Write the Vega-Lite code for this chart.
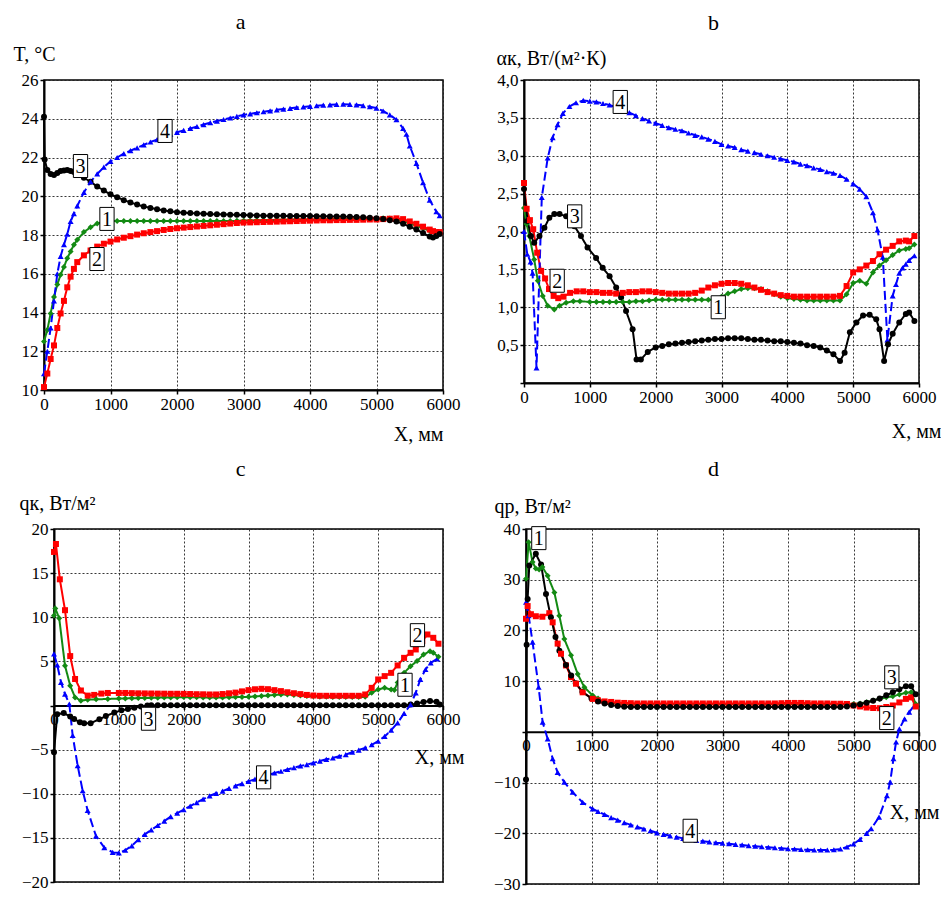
{
"$schema":"https://vega.github.io/schema/vega-lite/v6.json",
"padding":{"left":12,"top":10,"right":5,"bottom":5},
"background":"white",
"config":{
 "font":"Liberation Serif",
 "view":{"stroke":"#000","strokeWidth":1.5},
 "title":{"font":"Liberation Serif","fontSize":22,"fontWeight":"normal","color":"#000","baseline":"alphabetic","offset":10,"frame":"group"},
 "axis":{"labelFont":"Liberation Serif","labelFontSize":17,"labelColor":"#000","titleFont":"Liberation Serif","titleFontSize":20,"titleFontWeight":"normal","titleColor":"#000","domainColor":"#000","domainWidth":2,"tickColor":"#000","tickSize":4,"tickWidth":1.5,"gridColor":"#222","gridDash":[2,2],"gridWidth":1,"gridOpacity":0.9,"labelPadding":2,"labelFlush":false,"labelOverlap":false,"labelBound":false,"titleAngle":0,"titleBaseline":"alphabetic"}
},
"datasets":{
"a":[
{"x":0,"s1":12.5,"s2":10.15,"s3":24.1,"s4":10.85},
{"x":10,"s3":21.9},
{"x":50,"s1":13.1,"s2":10.85,"s3":21.35,"s4":12.0},
{"x":100,"s1":13.95,"s2":11.6,"s3":21.15,"s4":13.2},
{"x":150,"s1":14.8,"s2":12.3,"s3":21.1,"s4":14.6},
{"x":200,"s1":15.45,"s2":13.2,"s3":21.2,"s4":16.0},
{"x":250,"s1":15.95,"s2":13.95,"s3":21.3,"s4":16.9},
{"x":300,"s1":16.35,"s2":14.6,"s3":21.33,"s4":17.5},
{"x":350,"s1":16.8,"s2":15.3,"s3":21.35,"s4":18.05},
{"x":400,"s1":17.15,"s2":15.85,"s3":21.3,"s4":18.7},
{"x":450,"s1":17.5,"s2":16.25,"s3":21.25,"s4":19.1},
{"x":500,"s1":17.75,"s2":16.6,"s3":21.2,"s4":19.5},
{"x":600,"s1":18.15,"s2":16.95,"s3":20.95,"s4":20.2},
{"x":700,"s1":18.4,"s2":17.2,"s3":20.75,"s4":20.75},
{"x":800,"s1":18.6,"s2":17.4,"s3":20.5,"s4":21.15},
{"x":900,"s1":18.68,"s2":17.55,"s3":20.3,"s4":21.5},
{"x":1000,"s1":18.72,"s2":17.66,"s3":20.1,"s4":21.8},
{"x":1100,"s1":18.72,"s2":17.77,"s3":19.95,"s4":22.0},
{"x":1200,"s1":18.72,"s2":17.86,"s3":19.8,"s4":22.2},
{"x":1300,"s1":18.72,"s2":17.94,"s3":19.68,"s4":22.35},
{"x":1400,"s1":18.72,"s2":18.02,"s3":19.57,"s4":22.5},
{"x":1500,"s1":18.72,"s2":18.09,"s3":19.47,"s4":22.65},
{"x":1600,"s1":18.72,"s2":18.15,"s3":19.4,"s4":22.8},
{"x":1700,"s1":18.72,"s2":18.2,"s3":19.33,"s4":22.92},
{"x":1800,"s1":18.72,"s2":18.26,"s3":19.27,"s4":23.05},
{"x":1900,"s1":18.72,"s2":18.31,"s3":19.22,"s4":23.2},
{"x":2000,"s1":18.72,"s2":18.35,"s3":19.18,"s4":23.3},
{"x":2100,"s1":18.72,"s2":18.38,"s3":19.15,"s4":23.4},
{"x":2200,"s1":18.72,"s2":18.41,"s3":19.13,"s4":23.5},
{"x":2300,"s1":18.72,"s2":18.44,"s3":19.11,"s4":23.6},
{"x":2400,"s1":18.72,"s2":18.47,"s3":19.1,"s4":23.7},
{"x":2500,"s1":18.72,"s2":18.5,"s3":19.08,"s4":23.8},
{"x":2600,"s1":18.72,"s2":18.53,"s3":19.07,"s4":23.88},
{"x":2700,"s1":18.72,"s2":18.56,"s3":19.06,"s4":23.96},
{"x":2800,"s1":18.72,"s2":18.59,"s3":19.05,"s4":24.04},
{"x":2900,"s1":18.73,"s2":18.62,"s3":19.04,"s4":24.12},
{"x":3000,"s1":18.74,"s2":18.64,"s3":19.03,"s4":24.2},
{"x":3100,"s1":18.75,"s2":18.65,"s3":19.02,"s4":24.25},
{"x":3200,"s1":18.76,"s2":18.66,"s3":19.01,"s4":24.31},
{"x":3300,"s1":18.77,"s2":18.67,"s3":19.0,"s4":24.36},
{"x":3400,"s1":18.78,"s2":18.68,"s3":19.0,"s4":24.41},
{"x":3500,"s1":18.78,"s2":18.69,"s3":18.99,"s4":24.46},
{"x":3600,"s1":18.79,"s2":18.7,"s3":18.99,"s4":24.5},
{"x":3700,"s1":18.79,"s2":18.71,"s3":18.98,"s4":24.54},
{"x":3800,"s1":18.8,"s2":18.72,"s3":18.98,"s4":24.58},
{"x":3900,"s1":18.8,"s2":18.73,"s3":18.98,"s4":24.61},
{"x":4000,"s1":18.8,"s2":18.74,"s3":18.98,"s4":24.64},
{"x":4100,"s1":18.81,"s2":18.75,"s3":18.97,"s4":24.67},
{"x":4200,"s1":18.81,"s2":18.76,"s3":18.97,"s4":24.7},
{"x":4300,"s1":18.82,"s2":18.76,"s3":18.96,"s4":24.72},
{"x":4400,"s1":18.82,"s2":18.77,"s3":18.96,"s4":24.74},
{"x":4500,"s1":18.83,"s2":18.77,"s3":18.95,"s4":24.75},
{"x":4600,"s1":18.83,"s2":18.78,"s3":18.94,"s4":24.74},
{"x":4700,"s1":18.84,"s2":18.78,"s3":18.93,"s4":24.72},
{"x":4800,"s1":18.84,"s2":18.79,"s3":18.91,"s4":24.68},
{"x":4900,"s1":18.85,"s2":18.8,"s3":18.89,"s4":24.62},
{"x":5000,"s1":18.85,"s2":18.8,"s3":18.86,"s4":24.55},
{"x":5100,"s1":18.86,"s2":18.82,"s3":18.82,"s4":24.4},
{"x":5200,"s1":18.85,"s2":18.84,"s3":18.76,"s4":24.2},
{"x":5300,"s1":18.8,"s2":18.86,"s3":18.7,"s4":23.95},
{"x":5400,"s1":18.72,"s2":18.82,"s3":18.58,"s4":23.5},
{"x":5450,"s4":23.2},
{"x":5500,"s1":18.6,"s2":18.7,"s3":18.43,"s4":22.6},
{"x":5600,"s1":18.48,"s2":18.58,"s3":18.28,"s4":21.7},
{"x":5700,"s1":18.35,"s2":18.43,"s3":18.1,"s4":20.7},
{"x":5800,"s1":18.22,"s2":18.28,"s3":17.92,"s4":19.8},
{"x":5850,"s2":18.2,"s3":17.87},
{"x":5900,"s1":18.12,"s2":18.15,"s3":17.95,"s4":19.2},
{"x":5950,"s1":18.1,"s2":18.15,"s3":18.05,"s4":19.0}
],
"b":[
{"x":0,"s1":2.31,"s2":2.64,"s3":2.56,"s4":2.0},
{"x":40,"s1":2.1,"s2":2.3},
{"x":50,"s4":1.7},
{"x":55,"s3":2.14},
{"x":80,"s1":1.94},
{"x":90,"s2":2.15},
{"x":100,"s4":1.6},
{"x":105,"s3":1.94},
{"x":130,"s4":1.45},
{"x":140,"s2":2.03},
{"x":155,"s1":1.63,"s3":1.85},
{"x":190,"s4":0.2},
{"x":200,"s2":1.72},
{"x":210,"s1":1.35},
{"x":235,"s3":1.94},
{"x":260,"s2":1.48},
{"x":270,"s4":2.45},
{"x":285,"s1":1.15},
{"x":310,"s3":2.05},
{"x":320,"s2":1.38},
{"x":360,"s1":1.02,"s4":2.97},
{"x":380,"s2":1.24},
{"x":385,"s3":2.18},
{"x":435,"s4":3.24},
{"x":450,"s2":1.15},
{"x":460,"s1":0.97,"s3":2.23},
{"x":510,"s4":3.41},
{"x":520,"s2":1.12},
{"x":540,"s1":1.02,"s3":2.23},
{"x":590,"s4":3.56},
{"x":600,"s2":1.14},
{"x":640,"s1":1.06,"s3":2.2},
{"x":690,"s4":3.65},
{"x":700,"s2":1.19},
{"x":750,"s1":1.08},
{"x":765,"s3":2.07},
{"x":790,"s4":3.7},
{"x":800,"s2":1.21},
{"x":850,"s1":1.08},
{"x":865,"s3":1.94},
{"x":900,"s2":1.21,"s4":3.73},
{"x":965,"s3":1.79},
{"x":1000,"s1":1.07,"s2":1.2,"s4":3.72},
{"x":1095,"s3":1.65},
{"x":1100,"s1":1.07,"s2":1.2,"s4":3.71},
{"x":1195,"s3":1.52},
{"x":1200,"s1":1.07,"s2":1.19,"s4":3.69},
{"x":1300,"s1":1.07,"s2":1.19,"s3":1.41,"s4":3.67},
{"x":1400,"s1":1.07,"s2":1.18,"s3":1.26,"s4":3.64},
{"x":1475,"s3":1.13},
{"x":1500,"s1":1.07,"s2":1.19,"s4":3.61},
{"x":1550,"s3":0.95},
{"x":1600,"s1":1.07,"s2":1.2,"s4":3.57},
{"x":1650,"s3":0.71},
{"x":1700,"s1":1.08,"s2":1.2,"s4":3.53},
{"x":1710,"s3":0.31},
{"x":1775,"s3":0.31},
{"x":1800,"s1":1.08,"s2":1.21,"s4":3.49},
{"x":1880,"s3":0.41},
{"x":1900,"s1":1.09,"s2":1.21,"s4":3.46},
{"x":2000,"s1":1.1,"s2":1.2,"s3":0.47,"s4":3.43},
{"x":2100,"s1":1.1,"s2":1.19,"s3":0.49,"s4":3.4},
{"x":2200,"s1":1.1,"s2":1.18,"s3":0.51,"s4":3.37},
{"x":2300,"s1":1.1,"s2":1.18,"s3":0.52,"s4":3.35},
{"x":2400,"s1":1.1,"s2":1.18,"s3":0.53,"s4":3.33},
{"x":2500,"s1":1.1,"s2":1.18,"s3":0.54,"s4":3.3},
{"x":2600,"s1":1.1,"s2":1.19,"s3":0.55,"s4":3.27},
{"x":2700,"s1":1.1,"s2":1.22,"s3":0.56,"s4":3.25},
{"x":2800,"s1":1.1,"s2":1.26,"s3":0.57,"s4":3.22},
{"x":2900,"s1":1.1,"s2":1.29,"s3":0.58,"s4":3.19},
{"x":3000,"s1":1.14,"s2":1.31,"s3":0.58,"s4":3.15},
{"x":3100,"s1":1.18,"s2":1.32,"s3":0.59,"s4":3.13},
{"x":3200,"s1":1.21,"s2":1.32,"s3":0.59,"s4":3.11},
{"x":3300,"s1":1.24,"s2":1.31,"s3":0.59,"s4":3.08},
{"x":3400,"s1":1.25,"s2":1.29,"s3":0.58,"s4":3.06},
{"x":3500,"s1":1.25,"s2":1.26,"s3":0.57,"s4":3.04},
{"x":3600,"s1":1.24,"s2":1.23,"s3":0.57,"s4":3.02},
{"x":3700,"s1":1.21,"s2":1.2,"s3":0.56,"s4":3.0},
{"x":3800,"s1":1.17,"s2":1.18,"s3":0.55,"s4":2.98},
{"x":3900,"s1":1.14,"s2":1.16,"s3":0.55,"s4":2.96},
{"x":4000,"s1":1.12,"s2":1.15,"s3":0.54,"s4":2.94},
{"x":4100,"s1":1.11,"s2":1.14,"s3":0.53,"s4":2.92},
{"x":4200,"s1":1.1,"s2":1.14,"s3":0.52,"s4":2.89},
{"x":4300,"s1":1.09,"s2":1.14,"s3":0.5,"s4":2.87},
{"x":4400,"s1":1.09,"s2":1.14,"s3":0.49,"s4":2.84},
{"x":4500,"s1":1.09,"s2":1.14,"s3":0.47,"s4":2.82},
{"x":4600,"s1":1.09,"s2":1.14,"s3":0.43,"s4":2.79},
{"x":4700,"s1":1.09,"s2":1.14,"s3":0.38,"s4":2.77},
{"x":4800,"s1":1.09,"s2":1.15,"s3":0.29,"s4":2.74},
{"x":4870,"s3":0.4},
{"x":4900,"s1":1.17,"s2":1.28,"s4":2.69},
{"x":4950,"s3":0.67},
{"x":5000,"s1":1.32,"s2":1.46,"s4":2.63},
{"x":5050,"s3":0.8},
{"x":5100,"s1":1.35,"s2":1.5,"s4":2.56},
{"x":5150,"s3":0.89},
{"x":5200,"s1":1.31,"s2":1.55,"s4":2.46},
{"x":5250,"s3":0.9},
{"x":5300,"s1":1.46,"s2":1.61,"s4":2.25},
{"x":5350,"s3":0.84},
{"x":5370,"s4":2.02},
{"x":5400,"s1":1.55,"s2":1.7,"s3":0.71},
{"x":5450,"s4":1.66},
{"x":5470,"s3":0.29},
{"x":5500,"s1":1.62,"s2":1.76},
{"x":5520,"s4":0.57},
{"x":5530,"s3":0.51},
{"x":5600,"s1":1.69,"s2":1.81,"s3":0.65,"s4":1.15},
{"x":5650,"s4":1.3},
{"x":5700,"s1":1.75,"s2":1.87,"s3":0.8,"s4":1.45},
{"x":5750,"s4":1.52},
{"x":5800,"s1":1.77,"s2":1.88,"s3":0.91,"s4":1.57},
{"x":5850,"s1":1.78,"s2":1.87,"s3":0.93,"s4":1.62},
{"x":5930,"s1":1.83,"s2":1.94,"s3":0.82,"s4":1.68}
],
"c":[
{"x":0,"s1":10.2,"s2":17.4,"s3":-5.3,"s4":5.84},
{"x":20,"s1":11.0},
{"x":30,"s2":18.3},
{"x":50,"s3":-1.0,"s4":4.6},
{"x":80,"s1":9.9},
{"x":90,"s2":14.3},
{"x":108,"s4":2.63},
{"x":150,"s3":-0.85},
{"x":170,"s1":4.5,"s2":10.8,"s4":1.3},
{"x":236,"s4":0.17},
{"x":250,"s1":2.25,"s2":5.6,"s3":-1.25},
{"x":288,"s4":-3.4},
{"x":310,"s3":-1.53},
{"x":325,"s1":0.92,"s2":3.0},
{"x":365,"s4":-6.82},
{"x":400,"s3":-1.9},
{"x":415,"s1":0.55,"s2":1.7},
{"x":442,"s4":-9.66},
{"x":465,"s3":-2.0},
{"x":519,"s4":-11.9},
{"x":520,"s1":0.66,"s2":1.12},
{"x":565,"s3":-2.0},
{"x":620,"s2":1.2},
{"x":648,"s4":-14.8},
{"x":650,"s1":0.7},
{"x":700,"s3":-1.55},
{"x":730,"s2":1.35},
{"x":776,"s4":-16.1},
{"x":800,"s3":-1.2},
{"x":830,"s1":0.74,"s2":1.42},
{"x":905,"s4":-16.65},
{"x":930,"s3":-0.8},
{"x":1000,"s1":0.78,"s2":1.42,"s4":-16.7},
{"x":1040,"s3":-0.55},
{"x":1100,"s1":0.8,"s2":1.42,"s4":-16.4},
{"x":1140,"s3":-0.4},
{"x":1200,"s1":0.82,"s2":1.4,"s4":-15.9},
{"x":1240,"s3":-0.25},
{"x":1300,"s1":0.84,"s2":1.38,"s4":-15.2},
{"x":1340,"s3":-0.1},
{"x":1400,"s1":0.85,"s2":1.37,"s4":-14.6},
{"x":1440,"s3":0.0},
{"x":1500,"s1":0.87,"s2":1.36,"s3":0.03,"s4":-14.1},
{"x":1600,"s1":0.89,"s2":1.35,"s3":0.04,"s4":-13.6},
{"x":1700,"s1":0.9,"s2":1.34,"s3":0.04,"s4":-13.1},
{"x":1800,"s1":0.92,"s2":1.33,"s3":0.04,"s4":-12.6},
{"x":1900,"s1":0.93,"s2":1.33,"s3":0.04,"s4":-12.2},
{"x":2000,"s1":0.95,"s2":1.32,"s3":0.04,"s4":-11.8},
{"x":2100,"s1":0.94,"s2":1.3,"s3":0.04,"s4":-11.4},
{"x":2200,"s1":0.93,"s2":1.28,"s3":0.04,"s4":-11.0},
{"x":2300,"s1":0.92,"s2":1.27,"s3":0.04,"s4":-10.6},
{"x":2400,"s1":0.91,"s2":1.25,"s3":0.04,"s4":-10.25},
{"x":2500,"s1":0.9,"s2":1.25,"s3":0.04,"s4":-9.95},
{"x":2600,"s1":0.91,"s2":1.3,"s3":0.04,"s4":-9.7},
{"x":2700,"s1":0.93,"s2":1.38,"s3":0.04,"s4":-9.4},
{"x":2800,"s1":0.95,"s2":1.46,"s3":0.04,"s4":-9.1},
{"x":2900,"s1":0.96,"s2":1.6,"s3":0.04,"s4":-8.85},
{"x":3000,"s1":0.98,"s2":1.74,"s3":0.04,"s4":-8.6},
{"x":3100,"s1":1.03,"s2":1.84,"s3":0.04,"s4":-8.35},
{"x":3200,"s1":1.08,"s2":1.89,"s3":0.04,"s4":-8.1},
{"x":3300,"s1":1.13,"s2":1.85,"s3":0.04,"s4":-7.9},
{"x":3400,"s1":1.2,"s2":1.74,"s3":0.04,"s4":-7.65},
{"x":3500,"s1":1.25,"s2":1.63,"s3":0.04,"s4":-7.45},
{"x":3600,"s1":1.25,"s2":1.5,"s3":0.04,"s4":-7.25},
{"x":3700,"s1":1.2,"s2":1.39,"s3":0.04,"s4":-7.05},
{"x":3800,"s1":1.13,"s2":1.29,"s3":0.04,"s4":-6.85},
{"x":3900,"s1":1.08,"s2":1.2,"s3":0.04,"s4":-6.7},
{"x":4000,"s1":1.04,"s2":1.13,"s3":0.04,"s4":-6.5},
{"x":4100,"s1":1.0,"s2":1.1,"s3":0.04,"s4":-6.3},
{"x":4200,"s1":0.98,"s2":1.1,"s3":0.04,"s4":-6.1},
{"x":4300,"s1":0.97,"s2":1.1,"s3":0.04,"s4":-5.95},
{"x":4400,"s1":0.96,"s2":1.1,"s3":0.04,"s4":-5.75},
{"x":4500,"s1":0.95,"s2":1.1,"s3":0.04,"s4":-5.56},
{"x":4600,"s1":0.96,"s2":1.1,"s3":0.04,"s4":-5.3},
{"x":4700,"s1":0.97,"s2":1.1,"s3":0.04,"s4":-5.05},
{"x":4800,"s1":0.98,"s2":1.25,"s3":0.04,"s4":-4.8},
{"x":4900,"s1":1.44,"s2":2.0,"s3":0.04,"s4":-4.45},
{"x":5000,"s1":1.81,"s2":2.95,"s3":0.04,"s4":-4.05},
{"x":5100,"s1":2.0,"s2":3.33,"s3":0.04,"s4":-3.5},
{"x":5200,"s1":1.8,"s2":3.7,"s3":0.04,"s4":-2.8},
{"x":5250,"s1":1.75},
{"x":5300,"s1":2.6,"s2":4.54,"s3":0.04,"s4":-1.97},
{"x":5400,"s1":3.7,"s2":5.4,"s3":0.04,"s4":-0.9},
{"x":5500,"s1":4.46,"s2":5.97,"s3":0.1,"s4":0.11},
{"x":5580,"s2":6.35,"s4":1.44},
{"x":5600,"s1":5.03,"s3":0.23},
{"x":5650,"s4":2.95},
{"x":5680,"s2":7.3},
{"x":5700,"s1":5.78,"s3":0.4},
{"x":5730,"s4":4.08},
{"x":5760,"s2":8.05},
{"x":5800,"s1":6.16,"s3":0.5},
{"x":5810,"s4":4.84},
{"x":5850,"s1":5.97,"s2":7.67},
{"x":5900,"s3":0.42},
{"x":5910,"s4":5.29},
{"x":5930,"s1":5.52,"s2":7.0},
{"x":5950,"s3":0.1}
],
"d":[
{"x":0,"s1":30.2,"s2":22.3,"s3":-9.4,"s4":25.6},
{"x":10,"s3":17.2},
{"x":25,"s2":24.8,"s3":26.2},
{"x":40,"s1":37.4,"s4":22.9},
{"x":50,"s3":32.8},
{"x":75,"s2":23.2},
{"x":100,"s1":33.5,"s4":17.7},
{"x":150,"s1":32.2,"s2":22.8,"s3":35.1},
{"x":193,"s4":8.8},
{"x":200,"s1":32.0},
{"x":230,"s3":33.0},
{"x":250,"s1":32.5,"s2":22.7},
{"x":254,"s4":1.9},
{"x":305,"s3":27.2},
{"x":330,"s1":30.8},
{"x":331,"s4":-1.4},
{"x":356,"s2":23.4},
{"x":380,"s3":22.6},
{"x":407,"s2":21.6,"s4":-5.3},
{"x":433,"s1":27.5},
{"x":450,"s3":18.7},
{"x":483,"s2":17.4,"s4":-8.0},
{"x":509,"s1":22.9},
{"x":510,"s3":16.0},
{"x":534,"s2":15.4},
{"x":585,"s1":18.3,"s4":-9.9},
{"x":610,"s2":13.1,"s3":13.2},
{"x":687,"s1":15.1,"s2":10.8},
{"x":690,"s3":11.1},
{"x":712,"s4":-11.9},
{"x":760,"s3":9.6},
{"x":763,"s2":9.5},
{"x":789,"s1":11.4},
{"x":860,"s3":7.9},
{"x":865,"s2":7.8,"s4":-13.9},
{"x":891,"s1":8.8},
{"x":1000,"s3":6.6},
{"x":1018,"s1":7.17,"s2":6.5,"s4":-15.2},
{"x":1100,"s1":6.6,"s2":6.2,"s3":6.0,"s4":-15.7},
{"x":1200,"s1":5.85,"s2":6.0,"s3":5.6,"s4":-16.3},
{"x":1300,"s1":5.7,"s2":5.9,"s3":5.3,"s4":-16.9},
{"x":1400,"s1":5.6,"s2":5.75,"s3":5.1,"s4":-17.4},
{"x":1500,"s1":5.5,"s2":5.7,"s3":4.95,"s4":-17.9},
{"x":1600,"s1":5.5,"s2":5.65,"s3":4.9,"s4":-18.35},
{"x":1700,"s1":5.5,"s2":5.6,"s3":4.9,"s4":-18.75},
{"x":1800,"s1":5.5,"s2":5.6,"s3":4.9,"s4":-19.15},
{"x":1900,"s1":5.5,"s2":5.6,"s3":4.9,"s4":-19.5},
{"x":2000,"s1":5.5,"s2":5.6,"s3":4.9,"s4":-19.9},
{"x":2100,"s1":5.5,"s2":5.6,"s3":4.9,"s4":-20.2},
{"x":2200,"s1":5.5,"s2":5.6,"s3":4.9,"s4":-20.5},
{"x":2300,"s1":5.5,"s2":5.6,"s3":4.9,"s4":-20.75},
{"x":2400,"s1":5.5,"s2":5.6,"s3":4.9,"s4":-21.0},
{"x":2500,"s1":5.5,"s2":5.6,"s3":4.9,"s4":-21.2},
{"x":2600,"s1":5.5,"s2":5.6,"s3":4.9,"s4":-21.4},
{"x":2700,"s1":5.5,"s2":5.6,"s3":4.9,"s4":-21.55},
{"x":2800,"s1":5.5,"s2":5.6,"s3":4.9,"s4":-21.7},
{"x":2900,"s1":5.5,"s2":5.6,"s3":4.9,"s4":-21.85},
{"x":3000,"s1":5.5,"s2":5.6,"s3":4.9,"s4":-21.95},
{"x":3100,"s1":5.5,"s2":5.6,"s3":4.9,"s4":-22.05},
{"x":3200,"s1":5.5,"s2":5.6,"s3":4.9,"s4":-22.2},
{"x":3300,"s1":5.5,"s2":5.6,"s3":4.9,"s4":-22.3},
{"x":3400,"s1":5.5,"s2":5.6,"s3":4.9,"s4":-22.45},
{"x":3500,"s1":5.5,"s2":5.6,"s3":4.9,"s4":-22.55},
{"x":3600,"s1":5.5,"s2":5.6,"s3":4.9,"s4":-22.65},
{"x":3700,"s1":5.5,"s2":5.6,"s3":4.9,"s4":-22.75},
{"x":3800,"s1":5.5,"s2":5.6,"s3":4.9,"s4":-22.85},
{"x":3900,"s1":5.5,"s2":5.65,"s3":4.9,"s4":-22.95},
{"x":4000,"s1":5.5,"s2":5.7,"s3":4.9,"s4":-23.05},
{"x":4100,"s1":5.5,"s2":5.7,"s3":4.9,"s4":-23.1},
{"x":4200,"s1":5.5,"s2":5.7,"s3":4.9,"s4":-23.2},
{"x":4300,"s1":5.5,"s2":5.65,"s3":4.9,"s4":-23.25},
{"x":4400,"s1":5.5,"s2":5.6,"s3":4.9,"s4":-23.3},
{"x":4500,"s1":5.5,"s2":5.6,"s3":4.9,"s4":-23.3},
{"x":4600,"s1":5.5,"s2":5.6,"s3":4.9,"s4":-23.3},
{"x":4700,"s1":5.5,"s2":5.55,"s3":4.9,"s4":-23.25},
{"x":4800,"s1":5.5,"s2":5.55,"s3":4.9,"s4":-23.1},
{"x":4900,"s1":5.5,"s2":5.5,"s3":5.0,"s4":-22.7},
{"x":5000,"s1":5.5,"s2":5.2,"s3":5.2,"s4":-22.1},
{"x":5100,"s1":5.6,"s2":5.0,"s3":5.45,"s4":-21.2},
{"x":5200,"s1":5.85,"s2":4.8,"s3":5.75,"s4":-20.0},
{"x":5270,"s4":-19.1},
{"x":5300,"s1":6.2,"s2":4.7,"s3":6.15},
{"x":5390,"s4":-16.8},
{"x":5400,"s1":6.5,"s2":4.67,"s3":6.6},
{"x":5500,"s1":6.8,"s2":4.9,"s3":7.2},
{"x":5510,"s4":-12.6},
{"x":5560,"s4":-9.9},
{"x":5600,"s1":7.0,"s2":5.2,"s3":7.8},
{"x":5610,"s4":-5.3},
{"x":5650,"s4":-2.0},
{"x":5700,"s1":7.35,"s2":5.8,"s3":8.4,"s4":0.6},
{"x":5780,"s4":2.56},
{"x":5800,"s1":7.7,"s2":6.5,"s3":9.0},
{"x":5850,"s4":3.9},
{"x":5880,"s1":7.8,"s2":6.8,"s3":9.0},
{"x":5930,"s4":5.2},
{"x":5950,"s1":5.5,"s2":5.0,"s3":7.4}
],
"la":[{"x":1820,"y":23.37,"t":"4"},{"x":549,"y":21.56,"t":"3"},{"x":947,"y":18.83,"t":"1"},{"x":797,"y":16.76,"t":"2"}],
"lb":[{"x":1462,"y":3.71,"t":"4"},{"x":770,"y":2.2,"t":"3"},{"x":504,"y":1.35,"t":"2"},{"x":2951,"y":1.0,"t":"1"}],
"lc":[{"x":5606,"y":7.97,"t":"2"},{"x":5414,"y":2.35,"t":"1"},{"x":1458,"y":-1.5,"t":"3"},{"x":3233,"y":-8.14,"t":"4"}],
"ld":[{"x":196,"y":38.2,"t":"1"},{"x":5585,"y":10.75,"t":"3"},{"x":5508,"y":2.72,"t":"2"},{"x":2507,"y":-19.5,"t":"4"}]
},
"vconcat":[
{"hconcat":[
 {"width":399,"height":310,"title":{"text":"a","dx":-3,"offset":10},
  "encoding":{
   "x":{"field":"x","type":"quantitative","scale":{"domain":[0,6000],"nice":false,"zero":false},"axis":{"values":[0,1000,2000,3000,4000,5000,6000],"format":"d","title":"X, мм","titleX":399,"titleY":50,"titleAlign":"right"}},
   "y":{"field":"y","type":"quantitative","scale":{"domain":[10,26],"nice":false,"zero":false},"axis":{"values":[10,12,14,16,18,20,22,24,26],"title":"T, °C","titleX":-31,"titleY":-20,"titleAlign":"left"}}},
  "layer":[
   {"data":{"name":"a"},"transform":[{"fold":["s1","s2","s3","s4"],"as":["s","y"]},{"filter":"isValid(datum.y)"}],"mark":{"type":"line","strokeWidth":2},
    "encoding":{"color":{"field":"s","type":"nominal","scale":{"domain":["s1","s2","s3","s4"],"range":["#138a13","#ff0000","#000000","#0000ff"]},"legend":null},
     "strokeDash":{"field":"s","type":"nominal","scale":{"domain":["s1","s2","s3","s4"],"range":[[1,0],[1,0],[1,0],[9,4]]},"legend":null}}},
   {"data":{"name":"a"},"transform":[{"fold":["s1","s2","s3","s4"],"as":["s","y"]},{"filter":"isValid(datum.y)"}],"mark":{"type":"point","filled":true,"size":36,"opacity":1},
    "encoding":{"color":{"field":"s","type":"nominal","legend":null},
     "shape":{"field":"s","type":"nominal","scale":{"domain":["s1","s2","s3","s4"],"range":["diamond","square","circle","triangle-up"]},"legend":null}}},
   {"data":{"name":"la"},"mark":{"type":"point","shape":"M-0.62,-1H0.62V1H-0.62Z","size":529,"filled":true,"fill":"white","stroke":"black","strokeWidth":1,"opacity":1}},
   {"data":{"name":"la"},"mark":{"type":"text","font":"Liberation Serif","fontSize":20,"baseline":"middle","align":"center","dy":1,"color":"black"},"encoding":{"text":{"field":"t"}}}
  ]},
 {"width":395,"height":303,"title":{"text":"b","dx":-8,"offset":13},
  "encoding":{
   "x":{"field":"x","type":"quantitative","scale":{"domain":[0,6000],"nice":false,"zero":false},"axis":{"values":[0,1000,2000,3000,4000,5000,6000],"format":"d","title":"X, мм","titleX":417,"titleY":54,"titleAlign":"right"}},
   "y":{"field":"y","type":"quantitative","scale":{"domain":[0,4],"nice":false,"zero":false},"axis":{"values":[0,0.5,1,1.5,2,2.5,3,3.5,4],"labelExpr":"datum.value == 0 ? '' : replace(format(datum.value, '.1f'), '.', ',')","title":"αк, Вт/(м²·К)","titleX":-28,"titleY":-16,"titleAlign":"left"}}},
  "layer":[
   {"data":{"name":"b"},"transform":[{"fold":["s1","s2","s3","s4"],"as":["s","y"]},{"filter":"isValid(datum.y)"}],"mark":{"type":"line","strokeWidth":2},
    "encoding":{"color":{"field":"s","type":"nominal","scale":{"domain":["s1","s2","s3","s4"],"range":["#138a13","#ff0000","#000000","#0000ff"]},"legend":null},
     "strokeDash":{"field":"s","type":"nominal","scale":{"domain":["s1","s2","s3","s4"],"range":[[1,0],[1,0],[1,0],[9,4]]},"legend":null}}},
   {"data":{"name":"b"},"transform":[{"fold":["s1","s2","s3","s4"],"as":["s","y"]},{"filter":"isValid(datum.y)"}],"mark":{"type":"point","filled":true,"size":36,"opacity":1},
    "encoding":{"color":{"field":"s","type":"nominal","legend":null},
     "shape":{"field":"s","type":"nominal","scale":{"domain":["s1","s2","s3","s4"],"range":["diamond","square","circle","triangle-up"]},"legend":null}}},
   {"data":{"name":"lb"},"mark":{"type":"point","shape":"M-0.62,-1H0.62V1H-0.62Z","size":529,"filled":true,"fill":"white","stroke":"black","strokeWidth":1,"opacity":1}},
   {"data":{"name":"lb"},"mark":{"type":"text","font":"Liberation Serif","fontSize":20,"baseline":"middle","align":"center","dy":1,"color":"black"},"encoding":{"text":{"field":"t"}}}
  ]}
],"spacing":81,"bounds":"flush"},
{"hconcat":[
 {"width":1,"height":1,"data":{"values":[]},"mark":"point","encoding":{}},
 {"hconcat":[
 {"width":389,"height":353,"title":{"text":"c","dx":-8,"offset":12},
  "encoding":{
   "x":{"field":"x","type":"quantitative","scale":{"domain":[0,6000],"nice":false,"zero":false},"axis":{"values":[0,1000,2000,3000,4000,5000,6000],"format":"d","offset":-176.5,"title":"X, мм","titleX":410,"titleY":58,"titleAlign":"right"}},
   "y":{"field":"y","type":"quantitative","scale":{"domain":[-20,20],"nice":false,"zero":false},"axis":{"values":[-20,-15,-10,-5,0,5,10,15,20],"labelExpr":"datum.value == 0 ? '' : replace(format(datum.value, 'd'), '-', '−')","title":"qк, Вт/м²","titleX":-35,"titleY":-20,"titleAlign":"left"}}},
  "layer":[
   {"data":{"name":"c"},"transform":[{"fold":["s1","s2","s3","s4"],"as":["s","y"]},{"filter":"isValid(datum.y)"}],"mark":{"type":"line","strokeWidth":2},
    "encoding":{"color":{"field":"s","type":"nominal","scale":{"domain":["s1","s2","s3","s4"],"range":["#138a13","#ff0000","#000000","#0000ff"]},"legend":null},
     "strokeDash":{"field":"s","type":"nominal","scale":{"domain":["s1","s2","s3","s4"],"range":[[1,0],[1,0],[1,0],[9,4]]},"legend":null}}},
   {"data":{"name":"c"},"transform":[{"fold":["s1","s2","s3","s4"],"as":["s","y"]},{"filter":"isValid(datum.y)"}],"mark":{"type":"point","filled":true,"size":36,"opacity":1},
    "encoding":{"color":{"field":"s","type":"nominal","legend":null},
     "shape":{"field":"s","type":"nominal","scale":{"domain":["s1","s2","s3","s4"],"range":["diamond","square","circle","triangle-up"]},"legend":null}}},
   {"data":{"name":"lc"},"mark":{"type":"point","shape":"M-0.62,-1H0.62V1H-0.62Z","size":529,"filled":true,"fill":"white","stroke":"black","strokeWidth":1,"opacity":1}},
   {"data":{"name":"lc"},"mark":{"type":"text","font":"Liberation Serif","fontSize":20,"baseline":"middle","align":"center","dy":1,"color":"black"},"encoding":{"text":{"field":"t"}}}
  ]},
 {"width":393,"height":355,"title":{"text":"d","dx":-9,"offset":15},
  "encoding":{
   "x":{"field":"x","type":"quantitative","scale":{"domain":[0,6000],"nice":false,"zero":false},"axis":{"values":[0,1000,2000,3000,4000,5000,6000],"format":"d","offset":-152.14,"title":"X, мм","titleX":413,"titleY":87,"titleAlign":"right"}},
   "y":{"field":"y","type":"quantitative","scale":{"domain":[-30,40],"nice":false,"zero":false},"axis":{"values":[-30,-20,-10,0,10,20,30,40],"labelExpr":"datum.value == 0 ? '' : replace(format(datum.value, 'd'), '-', '−')","title":"qр, Вт/м²","titleX":-32,"titleY":-17,"titleAlign":"left"}}},
  "layer":[
   {"data":{"name":"d"},"transform":[{"fold":["s1","s2","s3","s4"],"as":["s","y"]},{"filter":"isValid(datum.y)"}],"mark":{"type":"line","strokeWidth":2},
    "encoding":{"color":{"field":"s","type":"nominal","scale":{"domain":["s1","s2","s3","s4"],"range":["#138a13","#ff0000","#000000","#0000ff"]},"legend":null},
     "strokeDash":{"field":"s","type":"nominal","scale":{"domain":["s1","s2","s3","s4"],"range":[[1,0],[1,0],[1,0],[9,4]]},"legend":null}}},
   {"data":{"name":"d"},"transform":[{"fold":["s1","s2","s3","s4"],"as":["s","y"]},{"filter":"isValid(datum.y)"}],"mark":{"type":"point","filled":true,"size":36,"opacity":1},
    "encoding":{"color":{"field":"s","type":"nominal","legend":null},
     "shape":{"field":"s","type":"nominal","scale":{"domain":["s1","s2","s3","s4"],"range":["diamond","square","circle","triangle-up"]},"legend":null}}},
   {"data":{"name":"ld"},"mark":{"type":"point","shape":"M-0.62,-1H0.62V1H-0.62Z","size":529,"filled":true,"fill":"white","stroke":"black","strokeWidth":1,"opacity":1}},
   {"data":{"name":"ld"},"mark":{"type":"text","font":"Liberation Serif","fontSize":20,"baseline":"middle","align":"center","dy":1,"color":"black"},"encoding":{"text":{"field":"t"}}}
  ]}
 ],"spacing":83,"bounds":"flush"}
],"spacing":9,"bounds":"flush"}
],
"spacing":12
}
